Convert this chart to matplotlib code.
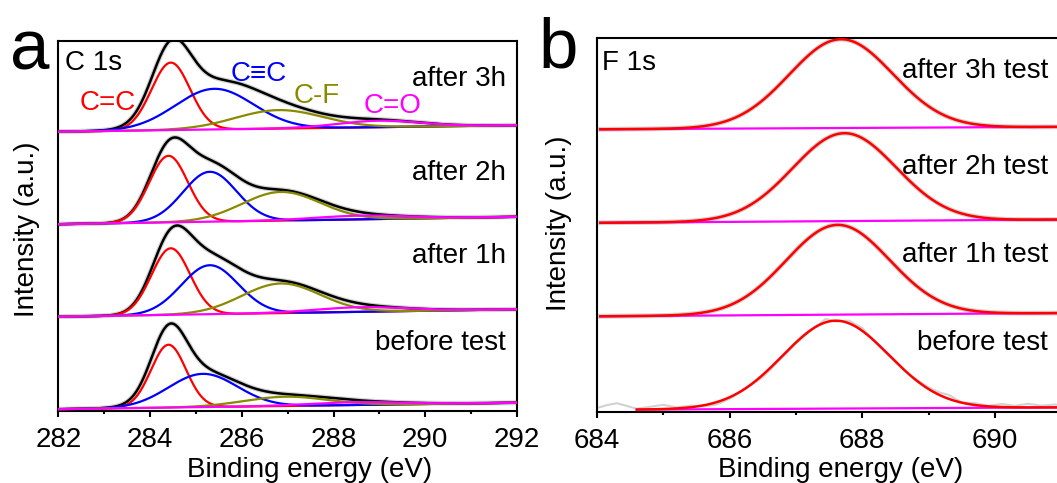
import matplotlib
matplotlib.use('Agg')
import matplotlib.pyplot as plt
from matplotlib.ticker import FixedLocator
import numpy as np

# #############################################################################
#
# Data
#
# #############################################################################

# C 1s fits, top to bottom
c1s_labels = ['after 3h', 'after 2h', 'after 1h', 'before test']
c1s_offsets = [3, 2, 1, 0]
c1s_bg_rise = [0.07, 0.08, 0.08, 0.07]     # background rise from 282 to 292 eV

# C=C (sp2)
cc_center = [284.45, 284.40, 284.45, 284.40]
cc_height = [0.73, 0.72, 0.72, 0.68]
cc_sigma = [0.42, 0.42, 0.42, 0.38]
# C≡C (sp)
ctc_center = [285.40, 285.30, 285.30, 285.15]
ctc_height = [0.44, 0.54, 0.53, 0.36]
ctc_sigma = [0.85, 0.58, 0.62, 0.75]
# C-F
cf_center = [286.80, 286.85, 286.85, 286.95]
cf_height = [0.20, 0.31, 0.32, 0.10]
cf_sigma = [0.95, 0.85, 0.85, 0.90]
# C=O
co_center = [289.0, 288.6, 288.6, 288.5]
co_height = [0.07, 0.04, 0.05, 0.03]
co_sigma = [0.90, 1.00, 1.00, 1.00]

# F 1s fits, top to bottom
f1s_labels = ['after 3h test', 'after 2h test', 'after 1h test', 'before test']
f1s_offsets = [3, 2, 1, 0]
f1s_center = [687.68, 687.73, 687.63, 687.60]
f1s_height = [0.95, 0.94, 0.96, 0.94]
f1s_sigma = [0.78, 0.78, 0.78, 0.80]
f1s_start = [684.05, 684.05, 684.05, 684.60]
f1s_bg_rise = [0.03, 0.04, 0.04, 0.03]

# raw F 1s counts of the "before test" spectrum (the noisy grey trace)
raw_before_energy = [684.0, 684.15, 684.3, 684.45, 684.6, 684.8, 685.0, 685.2,
                     685.4, 685.6, 685.8, 686.0, 686.25, 686.5, 686.75, 687.0,
                     687.25, 687.45, 687.6, 687.8, 688.0, 688.25, 688.5, 688.75,
                     689.0, 689.15, 689.3, 689.5, 689.7, 689.9, 690.1, 690.3,
                     690.5, 690.7, 690.9, 691.1]
raw_before_counts = [0.02, 0.05, 0.07, 0.04, 0.01, 0.03, 0.05, 0.02,
                     0.04, 0.03, 0.05, 0.11, 0.22, 0.34, 0.52, 0.70,
                     0.85, 0.96, 0.93, 0.94, 0.86, 0.67, 0.49, 0.34,
                     0.22, 0.17, 0.14, 0.06, 0.05, 0.02, 0.04, 0.02,
                     0.04, 0.02, 0.03, 0.02]

c1s_ticks = [282, 284, 286, 288, 290, 292]
f1s_ticks = [684, 686, 688, 690]

RED = '#ff0000'
BLUE = '#0000ff'
OLIVE = '#8a8a00'
MAGENTA = '#ff00ff'
GREY = '#d2d2d2'

plt.rcParams['font.family'] = ['Liberation Sans', 'DejaVu Sans']
plt.rcParams['font.size'] = 20

# #############################################################################
#
# Helpers
#
# #############################################################################

def gauss(x, center, height, sigma):
    '''Gaussian peak used by the fitting software'''
    return height * np.exp(-(x - center) ** 2 / (2 * sigma ** 2))


def style_axis(ax, xmin, xmax, ticks):
    ax.set_xlim(xmin, xmax)
    ax.set_ylim(-0.02, 3.98)
    ax.xaxis.set_major_locator(FixedLocator(ticks))
    ax.xaxis.set_minor_locator(FixedLocator([t + 1 for t in ticks if t + 1 < xmax]))
    ax.tick_params(axis='x', which='major', direction='out', length=4.5,
                   width=1.5, pad=7, labelsize=20, top=False)
    ax.tick_params(axis='x', which='minor', direction='out', length=2.5,
                   width=1.5, top=False)
    ax.set_yticks([])
    for sp in ax.spines.values():
        sp.set_linewidth(1.5)

# #############################################################################
#
# Plotting
#
# #############################################################################

def plot_c1s(ax):
    x = np.linspace(282, 292, 600)
    for i in range(len(c1s_labels)):
        bg = c1s_offsets[i] + c1s_bg_rise[i] * (x - 282) / 10
        p_cc = gauss(x, cc_center[i], cc_height[i], cc_sigma[i])
        p_ctc = gauss(x, ctc_center[i], ctc_height[i], ctc_sigma[i])
        p_cf = gauss(x, cf_center[i], cf_height[i], cf_sigma[i])
        p_co = gauss(x, co_center[i], co_height[i], co_sigma[i])
        env = bg + p_cc + p_ctc + p_cf + p_co

        ax.plot(x, env, color=GREY, lw=3.5, zorder=1)
        ax.plot(x, env, color='k', lw=1.8, zorder=2)
        ax.plot(x, bg + p_cc, color=RED, lw=1.6, zorder=3)
        ax.plot(x, bg + p_ctc, color=BLUE, lw=1.6, zorder=3)
        ax.plot(x, bg + p_cf, color=OLIVE, lw=1.6, zorder=3)
        ax.plot(x, bg + p_co, color=MAGENTA, lw=1.6, zorder=4)

    label_y = [3.57, 2.55, 1.66, 0.72]
    for i, lab in enumerate(c1s_labels):
        ax.text(291.75, label_y[i], lab, ha='right', va='center', fontsize=20)

    ax.text(282.15, 3.74, 'C 1s', ha='left', va='center', fontsize=20)
    ax.text(283.08, 3.31, 'C=C', color=RED, ha='center', va='center', fontsize=20)
    ax.text(286.37, 3.62, 'C≡C', color=BLUE, ha='center', va='center', fontsize=20)
    ax.text(287.64, 3.39, 'C-F', color=OLIVE, ha='center', va='center', fontsize=20)
    ax.text(289.28, 3.28, 'C=O', color=MAGENTA, ha='center', va='center', fontsize=20)

    style_axis(ax, 282, 292, c1s_ticks)


def plot_f1s(ax):
    for i in range(len(f1s_labels)):
        x = np.linspace(f1s_start[i], 692, 500)
        bg = f1s_offsets[i] + f1s_bg_rise[i] * (x - 684) / 8
        fit = bg + gauss(x, f1s_center[i], f1s_height[i], f1s_sigma[i])
        if f1s_labels[i] == 'before test':
            rx = np.array(raw_before_energy)
            ax.plot(rx, f1s_offsets[i] + f1s_bg_rise[i] * (rx - 684) / 8
                    + np.array(raw_before_counts), color=GREY, lw=1.5, zorder=1)
        else:
            ax.plot(x, fit, color=GREY, lw=3.5, zorder=1)
        ax.plot(x, bg, color=MAGENTA, lw=1.6, zorder=2)
        ax.plot(x, fit, color=RED, lw=1.8, zorder=3)

    label_y = [3.62, 2.60, 1.66, 0.71]
    for i, lab in enumerate(f1s_labels):
        ax.text(690.8, label_y[i], lab, ha='right', va='center', fontsize=20)
    ax.text(684.08, 3.71, 'F 1s', ha='left', va='center', fontsize=20)

    style_axis(ax, 684, 692, f1s_ticks)


def main():
    fig = plt.figure(figsize=(10.57, 4.83), dpi=100)
    ax_a = fig.add_axes([0.0553, 0.149, 0.4338, 0.766])
    ax_b = fig.add_axes([0.5648, 0.1476, 0.502, 0.7744])

    plot_c1s(ax_a)
    plot_f1s(ax_b)

    for ax in (ax_a, ax_b):
        ax.set_ylabel('Intensity (a.u.)', fontsize=20)
    ax_a.yaxis.set_label_coords(-0.040, 0.49)
    ax_b.yaxis.set_label_coords(-0.047, 0.505)

    fig.text(310 / 1057, 0.012, 'Binding energy (eV)', ha='center',
             va='baseline', fontsize=20)
    fig.text(841 / 1057, 0.012, 'Binding energy (eV)', ha='center',
             va='baseline', fontsize=20)

    fig.text(0.009, 0.857, 'a', fontsize=51, va='baseline')
    fig.text(0.509, 0.861, 'b', fontsize=51, va='baseline')

    fig.savefig('out.png', dpi=100)


if __name__ == '__main__':
    main()
